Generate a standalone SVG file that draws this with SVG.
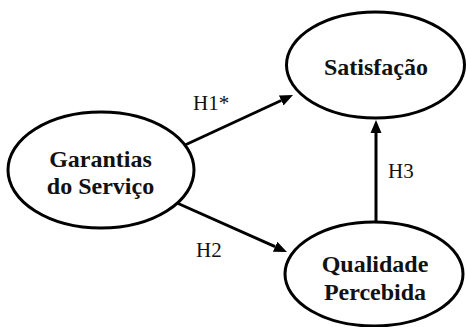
<svg xmlns="http://www.w3.org/2000/svg" width="466" height="327" viewBox="0 0 466 327">
<style>
.node ellipse{fill:#fff;stroke:#000;stroke-width:3}
text{font-family:"Liberation Serif","Times New Roman",serif;fill:#111}
.lbl{font-weight:bold;font-size:24px;text-anchor:middle}
.hl{font-size:21px}
.edge{stroke:#000;stroke-width:3;fill:none}
</style>
<defs>
<marker id="ah" markerUnits="userSpaceOnUse" markerWidth="14" markerHeight="12" viewBox="0 -6 14 12" refX="0" refY="0" orient="auto">
<path d="M0,-5.5 L13,0 L0,5.5 z" fill="#000"/>
</marker>
</defs>
<rect width="466" height="327" fill="#fff"/>
<g id="satisfacao" class="node">
<ellipse cx="375.5" cy="65" rx="89" ry="53"/>
<text class="lbl" x="376" y="75">Satisfação</text>
</g>
<g id="garantias" class="node">
<ellipse cx="101" cy="170" rx="93" ry="58"/>
<text class="lbl" x="100.5" y="166.5">Garantias</text>
<text class="lbl" x="100.5" y="194">do Serviço</text>
</g>
<g id="qualidade" class="node">
<ellipse cx="374" cy="274" rx="89" ry="52"/>
<text class="lbl" x="375" y="272">Qualidade</text>
<text class="lbl" x="375" y="300">Percebida</text>
</g>
<g id="connectors">
<path class="edge" d="M185,145 L281.2,100.5" marker-end="url(#ah)"/>
<path class="edge" d="M177,203 L275.1,246.7" marker-end="url(#ah)"/>
<path class="edge" d="M376,222 L376,133" marker-end="url(#ah)"/>
<text class="hl" x="193" y="110">H1*</text>
<text class="hl" x="196" y="256.5">H2</text>
<text class="hl" x="388" y="178">H3</text>
</g>
</svg>
